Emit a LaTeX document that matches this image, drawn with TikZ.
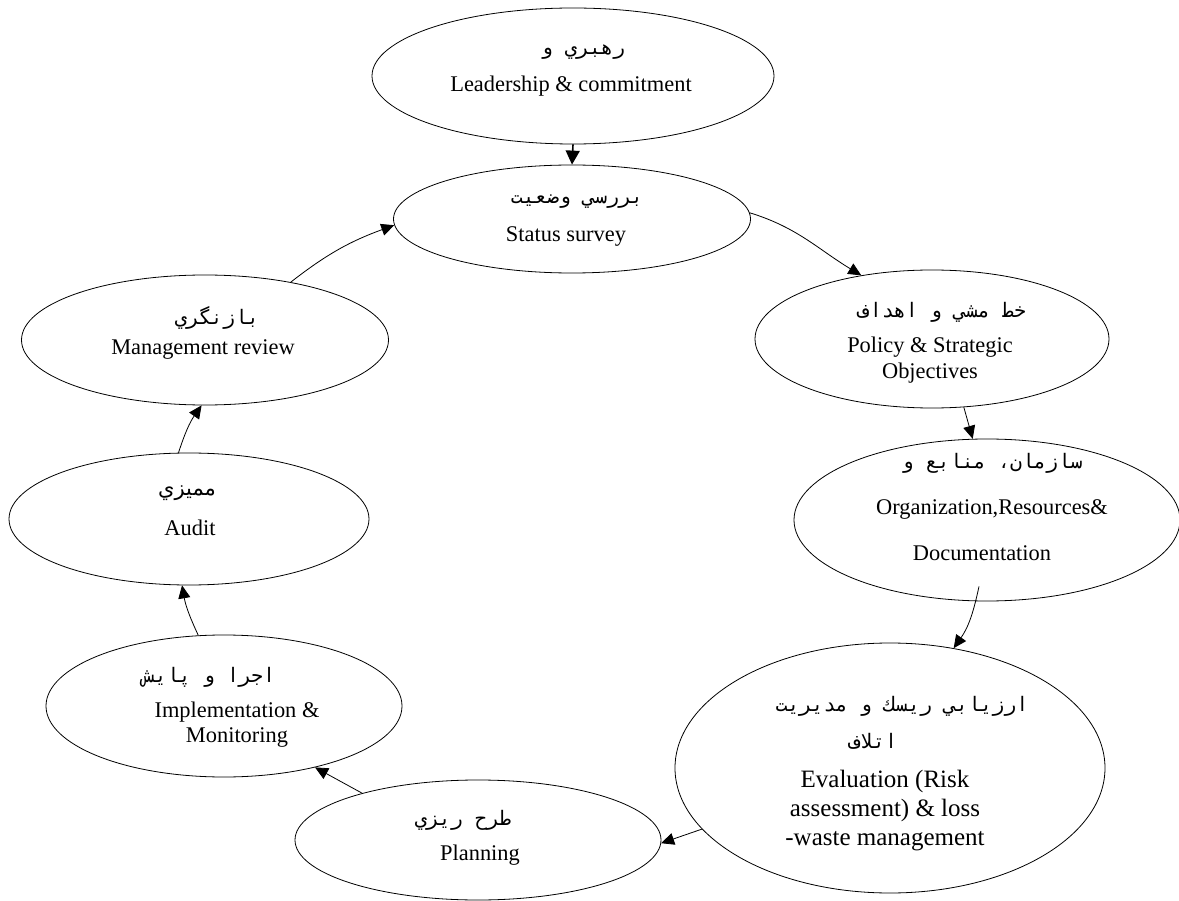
\documentclass[tikz,border=0pt]{standalone}
\usepackage{fontspec}
\setmainfont{Liberation Serif}
\newfontfamily\arabicfont[Script=Arabic]{DejaVu Sans Mono}
\newfontfamily\arabicprop[Script=Arabic]{DejaVu Sans}
\TeXXeTstate=1
\usetikzlibrary{shapes.geometric,arrows.meta}
\begin{document}
\begin{tikzpicture}[x=1pt,y=-1pt,
  stage/.style={draw,ellipse,line width=0.8pt,inner sep=0pt},
  en/.style={font=\fontsize{22.4}{26}\selectfont,align=center,inner sep=0pt},
  enbig/.style={font=\fontsize{25}{29}\selectfont,align=center,inner sep=0pt},
  fa/.style={font=\arabicfont\fontsize{20}{24}\selectfont,inner sep=0pt},
  faprop/.style={font=\arabicprop\fontsize{21}{24}\selectfont,inner sep=0pt},
  flow/.style={line width=0.8pt,-{Triangle[length=13pt,width=12pt]}}]
\useasboundingbox (0,0) rectangle (1179,901);

% stages
\node[stage,minimum width=402pt,minimum height=136pt] (lead) at (573,76) {};
\node[stage,minimum width=357pt,minimum height=108pt] (stat) at (572,219) {};
\node[stage,minimum width=354pt,minimum height=138pt] (pol) at (932,339) {};
\node[stage,minimum width=386pt,minimum height=162pt] (org) at (987,520) {};
\node[stage,minimum width=430pt,minimum height=250pt] (eval) at (890,768) {};
\node[stage,minimum width=366pt,minimum height=120pt] (plan) at (478,840) {};
\node[stage,minimum width=356pt,minimum height=142pt] (impl) at (224,706) {};
\node[stage,minimum width=360pt,minimum height=132pt] (audit) at (189,519) {};
\node[stage,minimum width=367pt,minimum height=130pt] (mgmt) at (205,340) {};

% labels
\node[fa] (leadFa) at (583,52) {\beginR رهبري  و\endR};
\node[en] (leadEn) at (571,86) {Leadership \& commitment};

\node[fa] (statFa) at (577,202) {\beginR بررسي  وضعيت\endR};
\node[en] (statEn) at (566,237) {Status survey};

\node[fa] (polFa) at (942,312) {\beginR خط مشي و اهداف\endR};
\node[en] (polEn) at (930,360) {Policy \& Strategic\\Objectives};

\node[fa] (orgFa) at (992,463) {\beginR سازمان، منابع و\endR};
\node[en] (orgEn1) at (992,509) {Organization,Resources\&};
\node[en] (orgEn2) at (982,553) {Documentation};

\node[fa] (evalFa1) at (902,706) {\beginR ارزيابي ريسك و مديريت\endR};
\node[fa] (evalFa2) at (873,741) {\beginR اتلاف\endR};
\node[enbig] (evalEn) at (885,811) {Evaluation (Risk\\assessment) \& loss\\-waste management};

\node[fa] (planFa) at (463,820) {\beginR طرح ريزي\endR};
\node[en] (planEn) at (480,855) {Planning};

\node[fa] (implFa) at (209,677) {\beginR اجرا و پايش\endR};
\node[en,font=\fontsize{22.4}{25}\selectfont] (implEn) at (237,725) {Implementation \&\\Monitoring};

\node[faprop] (auditFa) at (187,493) {\beginR مميزي\endR};
\node[en] (auditEn) at (190,528) {Audit};

\node[fa] (mgmtFa) at (217,318) {\beginR بازنگري\endR};
\node[en] (mgmtEn) at (203,350) {Management review};

% connectors
\draw[line width=1.6pt,-{Triangle[length=14pt,width=14pt]}] (lead.south) -- (stat.north);
\draw[flow] (stat.2) to[out=-17,in=149] (pol.138);
\draw[flow] (pol.-65) -- (org.100);
\draw[flow] ([shift={(-8,-15)}]org.south) to[out=-102,in=55] (eval.62);
\draw[flow] (eval.-162) -- (plan.-1);
\draw[flow] (plan.158) -- (impl.-34);
\draw[flow] (impl.110) to[out=115,in=-80] (audit.-96);
\draw[flow] (audit.99) to[out=72,in=-125] (mgmt.-93);
\draw[flow] (mgmt.34) to[out=38,in=-160] (stat.182);
\end{tikzpicture}
\end{document}
